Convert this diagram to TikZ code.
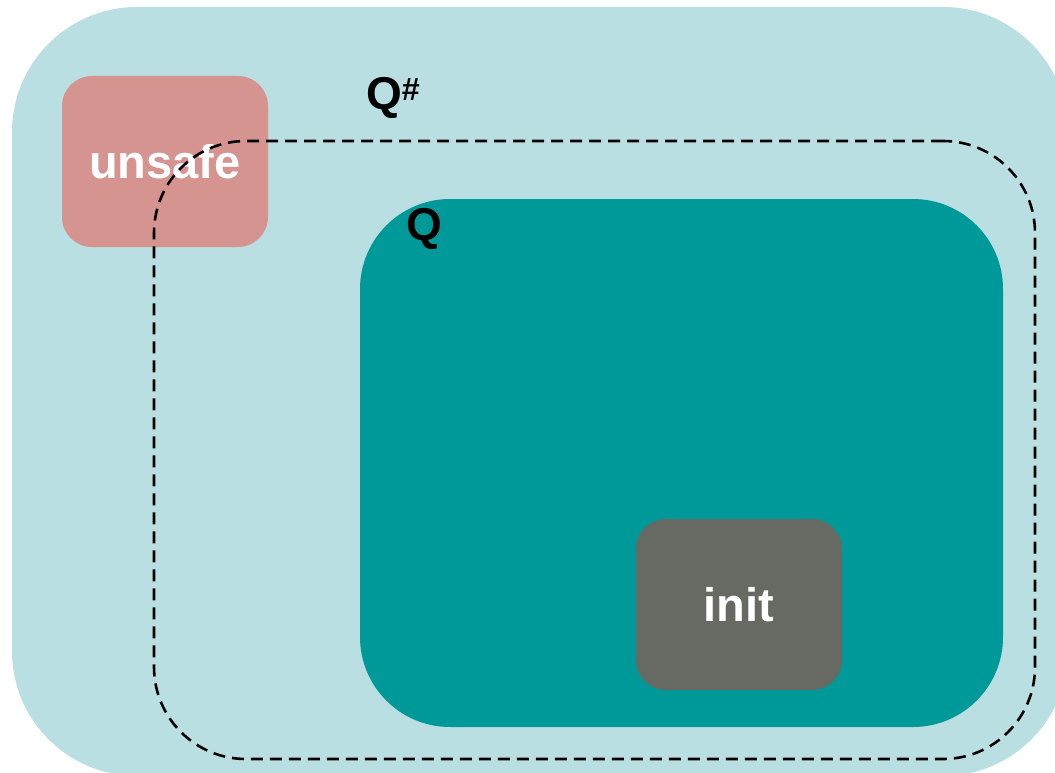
\documentclass[tikz,border=0pt]{standalone}
\usepackage{fontspec}
\setmainfont{Liberation Sans}
\usepackage{tikz}
\definecolor{outerblue}{HTML}{B9DFE2}
\definecolor{teal}{HTML}{009999}
\definecolor{rose}{HTML}{D5948F}
\definecolor{slate}{HTML}{666A62}
\tikzstyle{region} = [rectangle, inner sep=0pt, outer sep=0pt, draw=none]
\tikzstyle{smallset} = [region, rounded corners=30, minimum width=206, minimum height=171, text=white, font=\fontsize{47}{50}\selectfont\bfseries]
\tikzstyle{abstract} = [region, rounded corners=92, minimum width=881, minimum height=618, draw=black, line width=2.6pt, dash pattern=on 12pt off 7pt]
\tikzstyle{setlabel} = [inner sep=0pt, anchor=base west, font=\fontsize{46}{50}\selectfont\bfseries]

\begin{document}
\begin{tikzpicture}[x=1pt, y=-1pt]
  \useasboundingbox (0,0) rectangle (1055,773);
  \clip (0,0) rectangle (1055,773);

  \node (states) [region, fill=outerblue, rounded corners=125, minimum width=1056, minimum height=769] at (540,391.5) {};
  \node (reach) [region, fill=teal, rounded corners=90, minimum width=643, minimum height=528] at (681.5,463) {};
  \node (init) [smallset, fill=slate] at (739,604.5) {init};
  \node (unsafe) [smallset, fill=rose] at (165,161.5) {unsafe};
  \node (approx) [abstract] at (594.5,450) {};

  \node (qlab) [setlabel] at (406,240) {Q};
  \node (qsharp) [setlabel] at (366,110) {Q\textsuperscript{\#}};
\end{tikzpicture}
\end{document}
